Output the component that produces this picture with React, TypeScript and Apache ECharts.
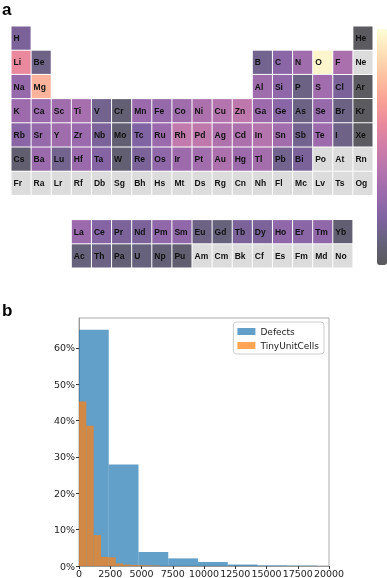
import React, { useEffect, useRef } from "react";
import * as echarts from "echarts";

// ---------- Periodic table data ----------
const period1Symbols = ["H", "He"];
const period1Values = [0.18, 0.01];
const period2Symbols = ["Li", "Be", "B", "C", "N", "O", "F", "Ne"];
const period2Values = [0.6, 0.13, 0.15, 0.24, 0.32, 0.97, 0.36, null];
const period3Symbols = ["Na", "Mg", "Al", "Si", "P", "S", "Cl", "Ar"];
const period3Values = [0.28, 0.75, 0.32, 0.26, 0.12, 0.33, 0.18, 0.02];
const period4Symbols = ["K", "Ca", "Sc", "Ti", "V", "Cr", "Mn", "Fe", "Co", "Ni", "Cu", "Zn", "Ga", "Ge", "As", "Se", "Br", "Kr"];
const period4Values = [0.31, 0.3, 0.32, 0.35, 0.15, 0.07, 0.3, 0.28, 0.32, 0.37, 0.4, 0.44, 0.31, 0.24, 0.12, 0.28, 0.12, 0.01];
const period5Symbols = ["Rb", "Sr", "Y", "Zr", "Nb", "Mo", "Tc", "Ru", "Rh", "Pd", "Ag", "Cd", "In", "Sn", "Sb", "Te", "I", "Xe"];
const period5Values = [0.24, 0.28, 0.32, 0.3, 0.18, 0.07, 0.2, 0.3, 0.45, 0.44, 0.38, 0.37, 0.4, 0.33, 0.15, 0.31, 0.13, 0.02];
const period6Symbols = ["Cs", "Ba", "Lu", "Hf", "Ta", "W", "Re", "Os", "Ir", "Pt", "Au", "Hg", "Tl", "Pb", "Bi", "Po", "At", "Rn"];
const period6Values = [0.06, 0.3, 0.15, 0.3, 0.22, 0.07, 0.18, 0.26, 0.31, 0.33, 0.37, 0.31, 0.34, 0.15, 0.18, null, null, null];
const period7Symbols = ["Fr", "Ra", "Lr", "Rf", "Db", "Sg", "Bh", "Hs", "Mt", "Ds", "Rg", "Cn", "Nh", "Fl", "Mc", "Lv", "Ts", "Og"];
const period7Values = [null, null, null, null, null, null, null, null, null, null, null, null, null, null, null, null, null, null];
const lanthanideSymbols = ["La", "Ce", "Pr", "Nd", "Pm", "Sm", "Eu", "Gd", "Tb", "Dy", "Ho", "Er", "Tm", "Yb"];
const lanthanideValues = [0.3, 0.22, 0.18, 0.18, 0.26, 0.26, 0.12, 0.1, 0.18, 0.18, 0.26, 0.24, 0.26, 0.07];
const actinideSymbols = ["Ac", "Th", "Pa", "U", "Np", "Pu", "Am", "Cm", "Bk", "Cf", "Es", "Fm", "Md", "No"];
const actinideValues = [0.1, 0.12, 0.08, 0.1, 0.08, 0.06, null, null, null, null, null, null, null, null];

// magma colormap blended with white (alpha ~0.65)
const colormap = ["#59595c", "#66627c", "#8063a2", "#9a6aac", "#b474ad", "#d07da8", "#ea899d", "#faa295", "#fec1a0", "#fee0b8", "#fdfed5"];

// ---------- Histogram data ----------
const defectsEdges = [0, 2380, 4760, 7140, 9520, 11900, 14280, 16660, 19040];
const defectsPct = [65.0, 27.9, 3.85, 2.1, 1.1, 0.4, 0.15, 0.08];
const tinyEdges = [0, 587, 1174, 1761, 2348, 2935, 3522, 4109, 4696, 5283, 5870, 6457];
const tinyPct = [45.3, 38.6, 8.5, 2.5, 2.4, 0.7, 0.4, 0.3, 0.25, 0.2, 0.15];
const yTicks = [0, 10, 20, 30, 40, 50, 60];
const xTicks = [0, 2500, 5000, 7500, 10000, 12500, 15000, 17500, 20000];

function columnsFor(count: number, row: number): number[] {
  if (row === 1) return [1, 18];
  if (count === 8) return [1, 2, 13, 14, 15, 16, 17, 18];
  if (count === 14) return Array.from({ length: 14 }, (_, i) => i + 4);
  return Array.from({ length: 18 }, (_, i) => i + 1);
}

function buildTable() {
  const rows: [string[], (number | null)[], number][] = [
    [period1Symbols, period1Values, 1],
    [period2Symbols, period2Values, 2],
    [period3Symbols, period3Values, 3],
    [period4Symbols, period4Values, 4],
    [period5Symbols, period5Values, 5],
    [period6Symbols, period6Values, 6],
    [period7Symbols, period7Values, 7],
    [lanthanideSymbols, lanthanideValues, 9],
    [actinideSymbols, actinideValues, 10],
  ];
  const data: number[][] = [];
  const symbols: string[] = [];
  rows.forEach(([syms, vals, row]) => {
    const cols = columnsFor(syms.length, row);
    syms.forEach((s, i) => {
      const v = vals[i];
      data.push([cols[i], row, v === null ? -1 : v]);
      symbols.push(s);
    });
  });
  return { data, symbols };
}

function histData(edges: number[], pct: number[]) {
  return pct.map((p, i) => [edges[i], edges[i + 1], p]);
}

export default function App() {
  const ref = useRef<HTMLDivElement>(null);
  useEffect(() => {
    if (!ref.current) return;
    const chart = echarts.init(ref.current, null, { renderer: "svg" });
    const table = buildTable();
    const font = '"DejaVu Sans", sans-serif';

    const histRender = (color: string) => (params: any, api: any) => {
      const a = api.coord([api.value(0), api.value(2)]);
      const b = api.coord([api.value(1), 0]);
      return {
        type: "rect",
        shape: { x: a[0], y: a[1], width: b[0] - a[0], height: b[1] - a[1] },
        style: { fill: color, opacity: 0.7 },
      };
    };

    chart.setOption({
      animation: false,
      textStyle: { fontFamily: font },
      grid: [
        { left: 11, top: 26, width: 362, height: 242 },
        { left: 79, top: 318, width: 250, height: 248.5, show: true, borderColor: "#aaa", borderWidth: 1, backgroundColor: "transparent" },
      ],
      xAxis: [
        { gridIndex: 0, type: "value", min: 0, max: 18, show: false },
        {
          gridIndex: 1, type: "value", min: 0, max: 20000, interval: 2500,
          axisLine: { show: true, lineStyle: { color: "#999" } },
          axisTick: { show: true, length: 3, lineStyle: { color: "#333" }, customValues: xTicks },
          axisLabel: {
            fontSize: 9.5, color: "#222", margin: 2, fontFamily: font,
            customValues: xTicks, showMaxLabel: true, showMinLabel: true, hideOverlap: false,
            formatter: (v: number) => String(v),
          },
          splitLine: { show: false },
        },
      ],
      yAxis: [
        { gridIndex: 0, type: "value", min: 0, max: 10, inverse: true, show: false },
        {
          gridIndex: 1, type: "value", min: 0, max: 68.25, interval: 10,
          axisLine: { show: true, lineStyle: { color: "#999" } },
          axisTick: { show: true, length: 3, lineStyle: { color: "#333" }, customValues: yTicks },
          axisLabel: { fontSize: 9.5, color: "#222", margin: 4, fontFamily: font, customValues: yTicks, formatter: (v: number) => v + "%" },
          splitLine: { show: false },
        },
      ],
      visualMap: {
        type: "continuous",
        min: 0,
        max: 1,
        dimension: 2,
        seriesIndex: 0,
        left: 377,
        top: 29,
        itemWidth: 10,
        itemHeight: 236,
        calculable: false,
        hoverLink: false,
        padding: 0,
        inRange: { color: colormap },
        outOfRange: { color: "#dcdcdc" },
      },
      legend: {
        data: ["Defects", "TinyUnitCells"],
        orient: "vertical",
        right: 63,
        top: 322,
        icon: "rect",
        itemWidth: 18,
        itemHeight: 7,
        itemGap: 5,
        backgroundColor: "#fff",
        borderColor: "#ccc",
        borderWidth: 1,
        borderRadius: 3,
        padding: [5, 5, 4, 4],
        textStyle: { fontSize: 9, color: "#222", fontFamily: font },
      },
      graphic: [
        { type: "text", left: 2, top: 1, style: { text: "a", font: 'bold 17px "Liberation Sans", Arial, sans-serif', fill: "#000" } },
        { type: "text", left: 2, top: 302, style: { text: "b", font: 'bold 17px "Liberation Sans", Arial, sans-serif', fill: "#000" } },
      ],
      series: [
        {
          type: "custom",
          name: "table",
          xAxisIndex: 0,
          yAxisIndex: 0,
          data: table.data,
          encode: { x: 0, y: 1 },
          renderItem: (params: any, api: any) => {
            const c = api.value(0);
            const r = api.value(1);
            const v = api.value(2);
            const p0 = api.coord([c - 1, r - 1]);
            const p1 = api.coord([c, r]);
            const x = Math.min(p0[0], p1[0]);
            const y = Math.min(p0[1], p1[1]);
            const w = Math.abs(p1[0] - p0[0]);
            const h = Math.abs(p1[1] - p0[1]);
            const fill = v < 0 ? "#dcdcdc" : api.visual("color");
            return {
              type: "group",
              children: [
                { type: "rect", shape: { x: x + 0.5, y: y + 0.5, width: w - 1, height: h - 1 }, style: { fill } },
                {
                  type: "text",
                  x: x + 2.5,
                  y: y + h / 2,
                  style: {
                    text: table.symbols[params.dataIndex],
                    fill: "#111",
                    font: 'bold 8.5px "Liberation Sans", Arial, sans-serif',
                    verticalAlign: "middle",
                    align: "left",
                  },
                },
              ],
            };
          },
        },
        {
          type: "custom",
          name: "Defects",
          xAxisIndex: 1,
          yAxisIndex: 1,
          data: histData(defectsEdges, defectsPct),
          encode: { x: [0, 1], y: 2 },
          itemStyle: { color: "#1f77b4", opacity: 0.7 },
          renderItem: histRender("#1f77b4"),
        },
        {
          type: "custom",
          name: "TinyUnitCells",
          xAxisIndex: 1,
          yAxisIndex: 1,
          data: histData(tinyEdges, tinyPct),
          encode: { x: [0, 1], y: 2 },
          itemStyle: { color: "#ff7f0e", opacity: 0.7 },
          renderItem: histRender("#ff7f0e"),
        },
      ],
    });
    return () => chart.dispose();
  }, []);
  return <div ref={ref} style={{ position: "fixed", left: 0, top: 0, width: 387, height: 578 }} />;
}
